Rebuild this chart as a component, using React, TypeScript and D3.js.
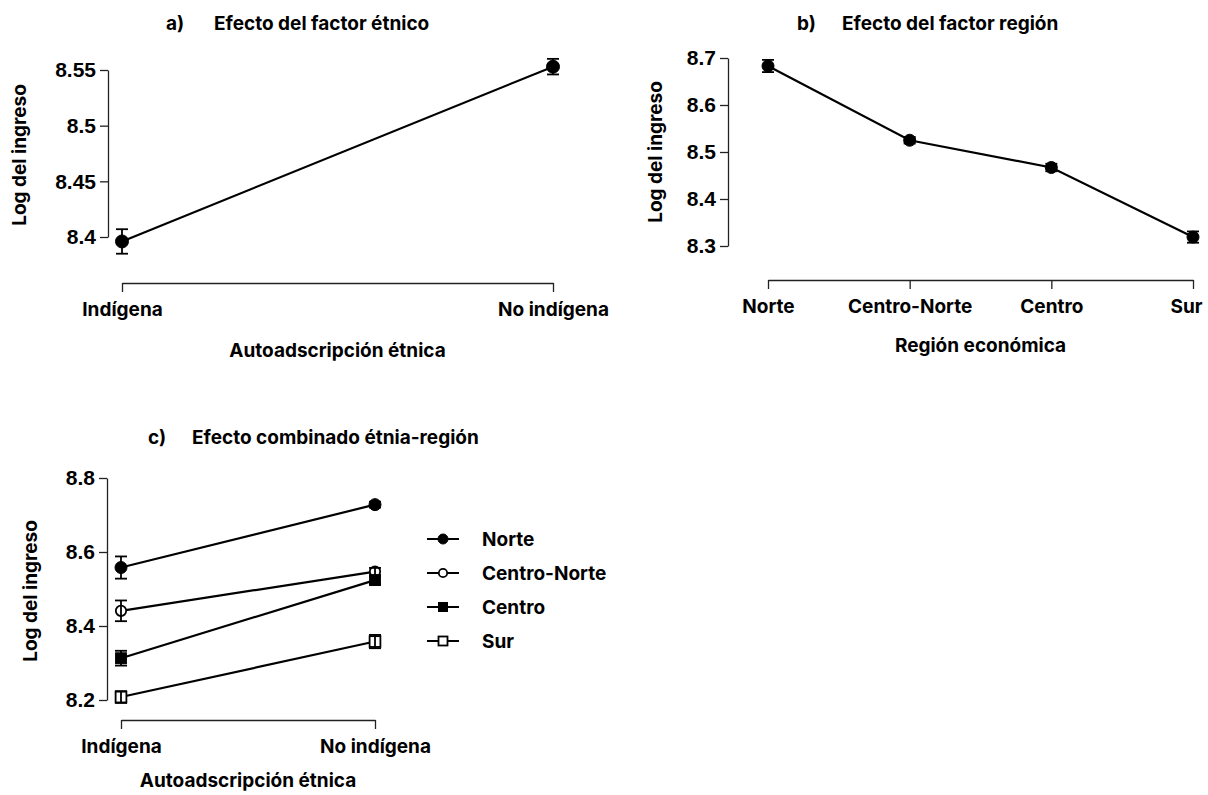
import React, { useEffect, useRef } from 'react';
import * as d3 from 'd3';

// a) ethnic factor
const ethnicGroups = ['Indígena', 'No indígena'];
const ethnicMeans = [8.396, 8.553];
const ethnicErrors = [0.011, 0.007];
const ethnicTicks = [8.4, 8.45, 8.5, 8.55];

// b) region factor
const regions = ['Norte', 'Centro-Norte', 'Centro', 'Sur'];
const regionMeans = [8.683, 8.525, 8.467, 8.319];
const regionErrors = [0.013, 0.007, 0.008, 0.012];
const regionTicks = [8.3, 8.4, 8.5, 8.6, 8.7];

// c) combined (values per ethnic group, for each region)
const comboNorte = [8.558, 8.728];
const comboNorteErr = [0.03, 0.008];
const comboCentroNorte = [8.441, 8.547];
const comboCentroNorteErr = [0.028, 0.01];
const comboCentro = [8.313, 8.524];
const comboCentroErr = [0.02, 0.01];
const comboSur = [8.208, 8.358];
const comboSurErr = [0.016, 0.018];
const comboTicks = [8.2, 8.4, 8.6, 8.8];

type Marker = 'circle' | 'circleOpen' | 'square' | 'squareOpen';

interface Series {
    name: string;
    means: number[];
    errors: number[];
    marker: Marker;
}

interface PanelConfig {
    letter: string;
    title: string;
    letterX: number;
    titleX: number;
    titleY: number;
    cats: string[];
    xRange: [number, number];
    bracketY: number;
    ticks: number[];
    yRange: [number, number];
    axisX: number;
    yTitleX: number;
    yTitleY: number;
    xTitle: string;
    xTitleY: number;
    series: Series[];
    markerSize: number;
    lastLabelShift?: number;
}

const textFont = 'Inter, "Open Sans", sans-serif';
const numFont = '"Liberation Sans", Arial, sans-serif';
const textSize = '19px';

const drawMarker = (g: any, cx: number, cy: number, marker: Marker, size: number) => {
    const open = marker === 'circleOpen' || marker === 'squareOpen';
    if (marker === 'circle' || marker === 'circleOpen') {
        g.append('circle')
            .attr('cx', cx)
            .attr('cy', cy)
            .attr('r', open ? size - 0.8 : size)
            .attr('fill', open ? '#fff' : '#000')
            .attr('stroke', '#000')
            .attr('stroke-width', open ? 1.8 : 1);
    } else {
        const s = size * 1.8;
        g.append('rect')
            .attr('x', cx - s / 2)
            .attr('y', cy - s / 2)
            .attr('width', s)
            .attr('height', s)
            .attr('fill', open ? '#fff' : '#000')
            .attr('stroke', '#000')
            .attr('stroke-width', open ? 1.8 : 1);
    }
};

const drawPanel = (svg: any, cfg: PanelConfig) => {
    const y = d3.scaleLinear()
        .domain([cfg.ticks[0], cfg.ticks[cfg.ticks.length - 1]])
        .range(cfg.yRange);
    const x = d3.scalePoint<string>().domain(cfg.cats).range(cfg.xRange);

    svg.append('text')
        .attr('x', cfg.letterX)
        .attr('y', cfg.titleY)
        .style('font-family', textFont)
        .style('font-weight', 700)
        .style('font-size', textSize)
        .text(cfg.letter);
    svg.append('text')
        .attr('x', cfg.titleX)
        .attr('y', cfg.titleY)
        .style('font-family', textFont)
        .style('font-weight', 700)
        .style('font-size', textSize)
        .text(cfg.title);

    const yAxis = svg.append('g')
        .attr('transform', `translate(${cfg.axisX},0)`)
        .call(d3.axisLeft(y).tickValues(cfg.ticks).tickSize(8).tickSizeOuter(0).tickPadding(4)
            .tickFormat((d: any) => String(d)));
    yAxis.selectAll('path, line').attr('stroke', '#222').attr('stroke-width', 1.3);
    yAxis.selectAll('text')
        .style('font-family', numFont)
        .style('font-weight', 700)
        .style('font-size', '21px')
        .attr('fill', '#000');

    const xAxis = svg.append('g')
        .attr('transform', `translate(0,${cfg.bracketY})`)
        .call(d3.axisBottom(x).tickSize(9).tickSizeOuter(0).tickPadding(11));
    xAxis.selectAll('path, line').attr('stroke', '#222').attr('stroke-width', 1.3);
    xAxis.selectAll('text')
        .style('font-family', textFont)
        .style('font-weight', 700)
        .style('font-size', textSize)
        .attr('fill', '#000');
    if (cfg.lastLabelShift) {
        xAxis.selectAll('.tick:last-of-type text').attr('dx', cfg.lastLabelShift);
    }

    svg.append('text')
        .attr('transform', `translate(${cfg.yTitleX},${cfg.yTitleY}) rotate(-90)`)
        .attr('text-anchor', 'middle')
        .attr('dy', '0.35em')
        .style('font-family', textFont)
        .style('font-weight', 700)
        .style('font-size', textSize)
        .text('Log del ingreso');

    svg.append('text')
        .attr('x', (cfg.xRange[0] + cfg.xRange[1]) / 2)
        .attr('y', cfg.xTitleY)
        .attr('text-anchor', 'middle')
        .style('font-family', textFont)
        .style('font-weight', 700)
        .style('font-size', textSize)
        .text(cfg.xTitle);

    const line = d3.line<number>()
        .x((_d: number, i: number) => x(cfg.cats[i]) as number)
        .y((d: number) => y(d));

    cfg.series.forEach((s) => {
        const g = svg.append('g');
        g.append('path')
            .attr('d', line(s.means))
            .attr('fill', 'none')
            .attr('stroke', '#000')
            .attr('stroke-width', 2.2);
        s.means.forEach((m, i) => {
            drawMarker(g, x(cfg.cats[i]) as number, y(m), s.marker, cfg.markerSize);
        });
        // error bars on top so they show through the open markers
        s.means.forEach((m, i) => {
            const cx = x(cfg.cats[i]) as number;
            const y0 = y(m - s.errors[i]);
            const y1 = y(m + s.errors[i]);
            g.append('line')
                .attr('x1', cx).attr('x2', cx).attr('y1', y0).attr('y2', y1)
                .attr('stroke', '#000').attr('stroke-width', 1.8);
            [y0, y1].forEach((yy) => {
                g.append('line')
                    .attr('x1', cx - 6).attr('x2', cx + 6).attr('y1', yy).attr('y2', yy)
                    .attr('stroke', '#000').attr('stroke-width', 1.8);
            });
        });
    });
};

const App: React.FC = () => {
    const svgRef = useRef<SVGSVGElement>(null);

    useEffect(() => {
        document.body.style.margin = '0';
        if (!svgRef.current) return;
        const svg = d3.select(svgRef.current);
        svg.selectAll('*').remove();
        svg.append('rect').attr('width', 1208).attr('height', 795).attr('fill', '#fff');

        drawPanel(svg, {
            letter: 'a)',
            title: 'Efecto del factor étnico',
            letterX: 166,
            titleX: 214,
            titleY: 30,
            cats: ethnicGroups,
            xRange: [122, 553],
            bracketY: 283,
            ticks: ethnicTicks,
            yRange: [237, 70],
            axisX: 108,
            yTitleX: 19,
            yTitleY: 155,
            xTitle: 'Autoadscripción étnica',
            xTitleY: 357,
            series: [{ name: 'a', means: ethnicMeans, errors: ethnicErrors, marker: 'circle' }],
            markerSize: 6.5,
        });

        drawPanel(svg, {
            letter: 'b)',
            title: 'Efecto del factor región',
            letterX: 797,
            titleX: 842,
            titleY: 30,
            cats: regions,
            xRange: [768, 1193],
            bracketY: 280,
            ticks: regionTicks,
            yRange: [246, 58],
            axisX: 728,
            yTitleX: 655,
            yTitleY: 152,
            xTitle: 'Región económica',
            xTitleY: 352,
            series: [{ name: 'b', means: regionMeans, errors: regionErrors, marker: 'circle' }],
            markerSize: 6,
            lastLabelShift: -7,
        });

        const comboSeries: Series[] = [
            { name: 'Norte', means: comboNorte, errors: comboNorteErr, marker: 'circle' },
            { name: 'Centro-Norte', means: comboCentroNorte, errors: comboCentroNorteErr, marker: 'circleOpen' },
            { name: 'Centro', means: comboCentro, errors: comboCentroErr, marker: 'square' },
            { name: 'Sur', means: comboSur, errors: comboSurErr, marker: 'squareOpen' },
        ];

        drawPanel(svg, {
            letter: 'c)',
            title: 'Efecto combinado étnia-región',
            letterX: 148,
            titleX: 192,
            titleY: 444,
            cats: ethnicGroups,
            xRange: [121, 375],
            bracketY: 720,
            ticks: comboTicks,
            yRange: [700, 478],
            axisX: 107,
            yTitleX: 30,
            yTitleY: 591,
            xTitle: 'Autoadscripción étnica',
            xTitleY: 787,
            series: comboSeries,
            markerSize: 6,
        });

        // legend
        const legend = svg.append('g');
        const rowY = d3.scalePoint<string>().domain(comboSeries.map((s) => s.name)).range([539, 641]);
        comboSeries.forEach((s) => {
            const ly = rowY(s.name) as number;
            legend.append('line')
                .attr('x1', 427).attr('x2', 459).attr('y1', ly).attr('y2', ly)
                .attr('stroke', '#000').attr('stroke-width', 2);
            drawMarker(legend, 443, ly, s.marker, 5);
            legend.append('text')
                .attr('x', 482)
                .attr('y', ly)
                .attr('dy', '0.35em')
                .style('font-family', textFont)
                .style('font-weight', 700)
                .style('font-size', textSize)
                .text(s.name);
        });
    }, []);

    return <svg ref={svgRef} width={1208} height={795} style={{ display: 'block' }}></svg>;
};

export default App;
